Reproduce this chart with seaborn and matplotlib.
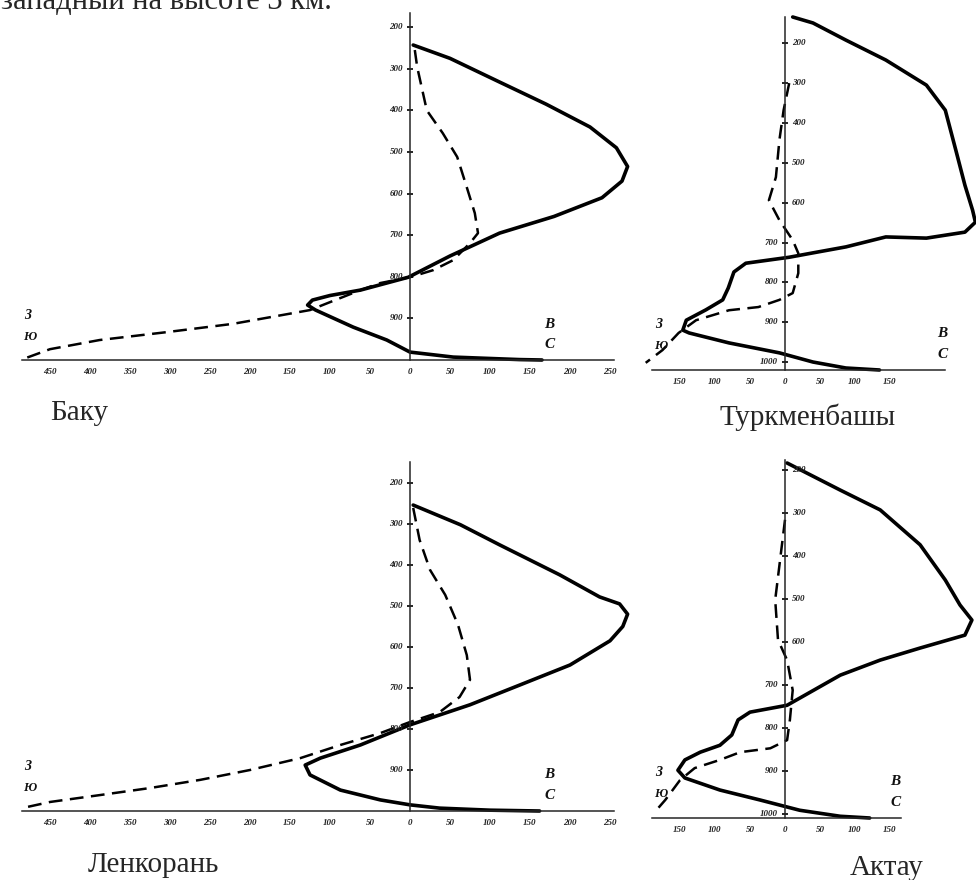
import matplotlib
matplotlib.use('Agg')
import matplotlib.pyplot as plt
import pandas as pd
import seaborn as sns

# curves: (value, pressure hPa)
baku_solid_v = [4, 50, 112, 170, 225, 258, 272, 265, 240, 180, 112, 50, -2, -62, -100, -122, -128, -118, -71, -29, 0, 54, 137, 165]
baku_solid_p = [243, 275, 332, 385, 440, 490, 535, 570, 610, 655, 695, 750, 801, 832, 845, 856, 868, 880, 921, 952, 981, 993, 999, 1000]
baku_dash_v = [6, 9, 21, 41, 59, 71, 81, 85, 75, 54, 29, 0, -37, -62, -125, -221, -304, -388, -450, -484]
baku_dash_p = [255, 296, 400, 455, 512, 585, 647, 695, 719, 760, 784, 801, 815, 832, 880, 913, 933, 952, 974, 998]

turk_solid_v = [11, 40, 87, 144, 202, 229, 244, 257, 268, 272, 257, 202, 144, 87, 40, 6, -56, -73, -81, -89, -113, -141, -146, -137, -80, -8, 40, 87, 135]
turk_solid_p = [134, 149, 192, 242, 305, 368, 468, 556, 619, 649, 674, 689, 686, 711, 726, 737, 752, 774, 814, 844, 869, 895, 920, 927, 952, 977, 1000, 1015, 1020]
turk_dash_v = [6, -2, -8, -13, -23, -8, 11, 19, 19, 11, -8, -38, -80, -127, -152, -175, -199]
turk_dash_p = [300, 368, 443, 536, 594, 644, 694, 727, 777, 827, 844, 862, 870, 895, 927, 970, 1002]

lenk_solid_v = [4, 63, 112, 187, 237, 262, 272, 266, 250, 200, 137, 75, 0, -62, -112, -131, -125, -87, -37, 0, 37, 100, 162]
lenk_solid_p = [254, 302, 351, 424, 478, 495, 520, 550, 585, 644, 693, 741, 790, 839, 871, 888, 912, 949, 973, 985, 993, 998, 1000]
lenk_dash_v = [4, 12, 25, 44, 60, 71, 75, 62, 37, 0, -37, -87, -137, -200, -262, -325, -387, -450, -485]
lenk_dash_p = [261, 339, 412, 473, 546, 620, 680, 722, 759, 783, 810, 839, 871, 900, 924, 944, 961, 978, 993]

akt_solid_v = [3, 79, 136, 193, 229, 250, 267, 257, 193, 136, 79, 3, -50, -67, -76, -93, -121, -143, -153, -143, -93, -36, 21, 79, 121]
akt_solid_p = [184, 247, 293, 374, 456, 514, 549, 584, 614, 642, 677, 747, 763, 781, 816, 840, 856, 874, 898, 916, 944, 967, 991, 1005, 1009]
akt_dash_v = [0, -7, -14, -10, 3, 11, 7, 3, -21, -64, -93, -129, -150, -171, -186]
akt_dash_p = [316, 409, 502, 595, 642, 712, 781, 828, 847, 856, 874, 893, 921, 967, 995]

left_xticks = [-450, -400, -350, -300, -250, -200, -150, -100, -50, 0, 50, 100, 150, 200, 250]
right_xticks = [-150, -100, -50, 0, 50, 100, 150]
p_ticks = [200, 300, 400, 500, 600, 700, 800, 900, 1000]

sns.set_style('white')
plt.rcParams['font.family'] = ['Liberation Serif', 'DejaVu Serif']

W, H = 976, 880
fig = plt.figure(figsize=(W / 100, H / 100), dpi=100)
fig.patch.set_facecolor('white')

tick_font = dict(family='Liberation Serif', style='italic', weight='bold', size=6.5, color='#222222')
letter = dict(family='Liberation Serif', style='italic', weight='bold', color='#111111')


def panel(zero_px, sx, xlim, top_px, bottom_px, ylim, solid, dash, side,
          spine, west_x, east_x, name, name_xy):
    left = zero_px + xlim[0] * sx
    right = zero_px + xlim[1] * sx
    ax = fig.add_axes([left / W, 1 - bottom_px / H, (right - left) / W, (bottom_px - top_px) / H])
    ax.patch.set_visible(False)

    sd = pd.DataFrame({'v': solid[0], 'p': solid[1]})
    dd = pd.DataFrame({'v': dash[0], 'p': dash[1]})
    sns.lineplot(data=sd, x='v', y='p', sort=False, estimator=None, color='black',
                 lw=2.6, ax=ax, solid_capstyle='round', solid_joinstyle='round', clip_on=False)
    sns.lineplot(data=dd, x='v', y='p', sort=False, estimator=None, color='black',
                 lw=1.8, ax=ax, dashes=(5.5, 3), clip_on=False)

    ax.set_xlim(*xlim)
    ax.set_ylim(*ylim)
    for s in ['top', 'right']:
        ax.spines[s].set_visible(False)
    ax.spines['left'].set_position(('data', 0))
    ax.spines['left'].set_linewidth(1.1)
    ax.spines['bottom'].set_linewidth(1.1)
    ax.spines['bottom'].set_bounds(*spine)
    ax.set_xlabel('')
    ax.set_ylabel('')

    xt = left_xticks if side == 'left' else right_xticks
    ax.set_xticks(xt)
    ax.set_xticklabels([str(abs(v)) for v in xt], fontdict=tick_font)
    ax.tick_params(axis='x', direction='inout', length=3, width=1, pad=4)

    ax.set_yticks([])
    for p in p_ticks:
        if p == 1000 and side == 'left':
            continue
        on_right = side == 'right' and p < 700
        ax.plot([0], [p], marker='_', ms=5, mew=1.2, color='black', clip_on=False)
        ax.annotate(str(p), (0, p), xytext=(5 if on_right else -5, 0), textcoords='offset points',
                    ha='left' if on_right else 'right', va='center', **tick_font)

    # compass letters at the ends of the horizontal axis
    span = ylim[0] - ylim[1]
    ax.text(west_x, ylim[0] - 0.11 * span, 'З', ha='left', va='bottom', size=10, **letter)
    ax.text(west_x - 2, ylim[0] - 0.05 * span, 'Ю', ha='left', va='bottom', size=9, **letter)
    ax.text(east_x, ylim[0] - 0.085 * span, 'В', ha='left', va='bottom', size=11, **letter)
    ax.text(east_x, ylim[0] - 0.025 * span, 'С', ha='left', va='bottom', size=11, **letter)

    fig.text(name_xy[0] / W, 1 - name_xy[1] / H, name, ha='left', va='baseline',
             family='Liberation Serif', size=21)
    return ax


panel(410, 0.8, (-490, 270), 13, 360, (1000, 166),
      (baku_solid_v, baku_solid_p), (baku_dash_v, baku_dash_p), 'left',
      (-485, 255), -482, 168, 'Баку', (50, 420))
panel(785, 0.7, (-210, 272), 17, 370, (1020, 134),
      (turk_solid_v, turk_solid_p), (turk_dash_v, turk_dash_p), 'right',
      (-190, 229), -185, 218, 'Туркменбашы', (720, 425))
panel(410, 0.8, (-490, 270), 462, 811, (1000, 149),
      (lenk_solid_v, lenk_solid_p), (lenk_dash_v, lenk_dash_p), 'left',
      (-485, 255), -482, 168, 'Ленкорань', (88, 872))
panel(785, 0.7, (-210, 272), 460, 818, (1009, 177),
      (akt_solid_v, akt_solid_p), (akt_dash_v, akt_dash_p), 'right',
      (-190, 165), -185, 150, 'Актау', (850, 875))

fig.text(332 / W, 1 - 9 / H, 'западный на высоте 3 км.', ha='right', va='baseline',
         family='Liberation Serif', size=22)

fig.savefig('out.png', dpi=100)
